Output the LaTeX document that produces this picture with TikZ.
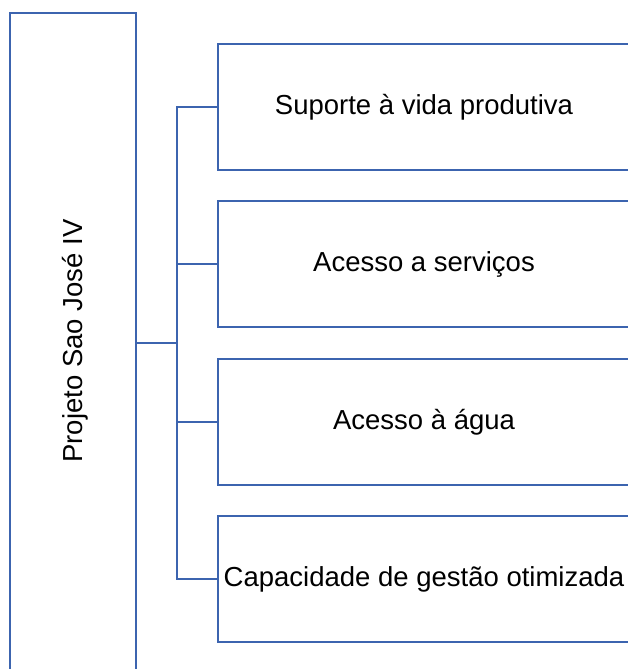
\documentclass[tikz,border=0pt]{standalone}
\usepackage{fontspec}
\setmainfont{Liberation Sans}
\definecolor{lineblue}{RGB}{60,100,175}
\begin{document}
\begin{tikzpicture}[x=1bp,y=-1bp,
  boxstyle/.style={draw=lineblue,line width=2bp,minimum width=412bp,minimum height=126bp,inner sep=0pt,
    font=\fontsize{27.6}{33}\selectfont,text=black},
  rootstyle/.style={draw=lineblue,line width=2bp,minimum width=126bp,minimum height=660bp,inner sep=0pt},
  conn/.style={draw=lineblue,line width=2bp}]
\useasboundingbox (0,0) rectangle (628,669);
\clip (0,0) rectangle (628,669);
\node[rootstyle] (root) at (73,343) {};
\node[rotate=90,font=\fontsize{27.6}{33}\selectfont,text=black] (roottext) at (75,341) {Projeto Sao José IV};
\node[boxstyle] (b1) at (424,107) {Suporte à vida produtiva};
\node[boxstyle] (b2) at (424,264) {Acesso a serviços};
\node[boxstyle] (b3) at (424,422) {Acesso à água};
\node[boxstyle] (b4) at (424,579) {Capacidade de gestão otimizada};
\coordinate (j) at (177,343);
\draw[conn] (root.east) -- (j);
\draw[conn] (j) |- (b1.west);
\draw[conn] (j) |- (b2.west);
\draw[conn] (j) |- (b3.west);
\draw[conn] (j) |- (b4.west);
\end{tikzpicture}
\end{document}
